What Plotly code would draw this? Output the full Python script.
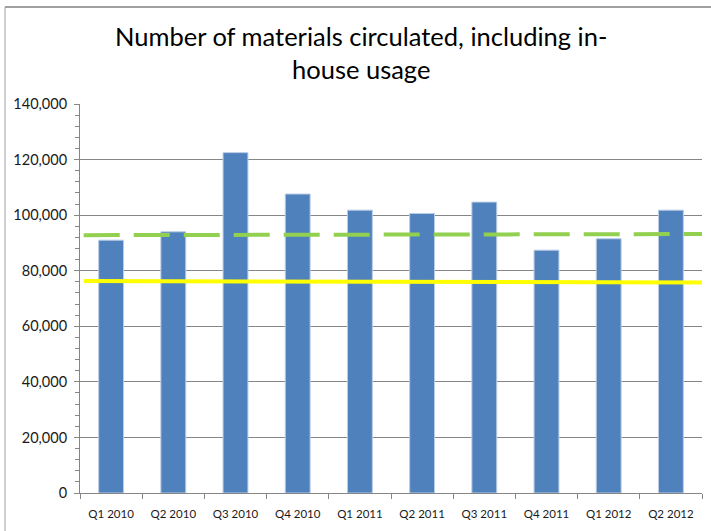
import plotly.graph_objects as go

categories = ["Q1 2010", "Q2 2010", "Q3 2010", "Q4 2010", "Q1 2011",
              "Q2 2011", "Q3 2011", "Q4 2011", "Q1 2012", "Q2 2012"]
circulated = [91000, 94000, 122500, 107600, 101800,
              100600, 104700, 87400, 91500, 101800]
green_line = [92800, 93200]   # start / end of dashed green line
yellow_line = [76300, 75800]  # start / end of yellow line
line_span = [0, 1]

title_text = "Number of materials circulated, including in-<br>house usage"

fig = go.Figure()
fig.add_trace(go.Bar(
    x=categories, y=circulated,
    marker=dict(color="#4F81BD", line=dict(color="#B9CDE5", width=1)),
    showlegend=False,
))
fig.add_trace(go.Scatter(
    x=line_span, y=yellow_line, xaxis="x2", mode="lines",
    line=dict(color="#FFFF00", width=4), showlegend=False,
))
fig.add_trace(go.Scatter(
    x=line_span, y=green_line, xaxis="x2", mode="lines",
    line=dict(color="#92D050", width=4, dash="36px,14px"), showlegend=False,
))

L, R, T, B = 80, 9, 104, 38
W, H = 711, 531
pw, ph = W - L - R, H - T - B

def px(x):
    return (x - L) / pw

def py(y):
    return (H - B - y) / ph

fig.update_layout(
    width=W, height=H,
    margin=dict(l=L, r=R, t=T, b=B, pad=0, autoexpand=False),
    paper_bgcolor="white", plot_bgcolor="white",
    bargap=0.6,
    font=dict(family="Lato, Open Sans, sans-serif", color="#1a1a1a"),
    title=dict(text=title_text, x=0.508, xanchor="center", y=0.914, yanchor="middle",
               font=dict(size=25.5, color="#000000", family="Lato, sans-serif")),
    xaxis=dict(
        type="category", tickson="boundaries", ticks="outside", ticklen=5,
        tickcolor="#868686", showline=True, linecolor="#868686", linewidth=1,
        showgrid=False, tickfont=dict(size=11.5, color="#1a1a1a"),
        ticklabelstandoff=10,
        fixedrange=True, automargin=False,
    ),
    xaxis2=dict(overlaying="x", range=[-0.006, 1], visible=False, fixedrange=True),
    yaxis=dict(
        range=[0, 140000], dtick=20000, tickformat=",",
        ticks="outside", ticklen=5, tickcolor="#868686",
        minor=dict(dtick=4000, ticks="outside", ticklen=4, tickcolor="#868686", showgrid=False),
        showline=True, linecolor="#868686", linewidth=1,
        showgrid=True, gridcolor="#868686", gridwidth=1,
        zeroline=False, ticklabelstandoff=4,
        tickfont=dict(size=14.5, color="#1a1a1a"), fixedrange=True, automargin=False,
    ),
    shapes=[
        dict(type="line", xref="paper", yref="paper", x0=px(5), x1=px(711), y0=py(7), y1=py(7),
             line=dict(color="#A0A0A0", width=2)),
        dict(type="line", xref="paper", yref="paper", x0=px(5), x1=px(5), y0=py(7), y1=py(531),
             line=dict(color="#A0A0A0", width=1)),
    ],
)

fig.write_html("out.html", config={"displayModeBar": False},
               post_script="document.body.style.margin='0';document.body.style.overflow='hidden';")
